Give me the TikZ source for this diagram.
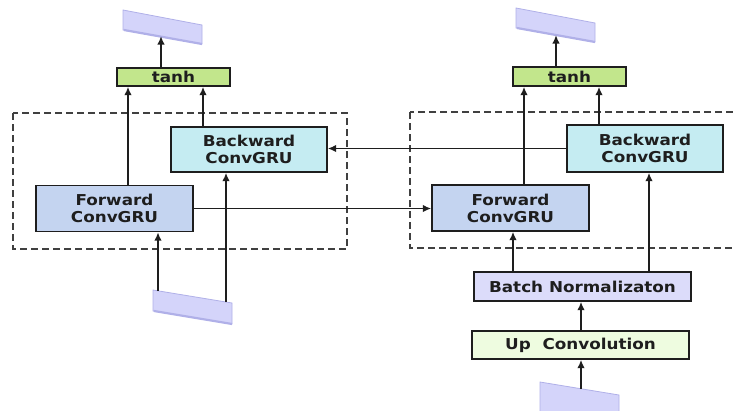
\documentclass[tikz,border=0pt]{standalone}
\usepackage{fontspec}
\setmainfont{DejaVu Sans}
\newfontfamily\boxfont{DejaVu Sans}[FakeStretch=1.12]
\usetikzlibrary{arrows.meta,calc}

\definecolor{tanhfill}{RGB}{194,230,140}
\definecolor{bwdfill}{RGB}{197,236,242}
\definecolor{fwdfill}{RGB}{196,212,240}
\definecolor{bnfill}{RGB}{220,220,250}
\definecolor{upfill}{RGB}{238,252,224}
\definecolor{mapfill}{RGB}{212,212,250}
\definecolor{mapedge}{RGB}{176,176,232}
\definecolor{ink}{RGB}{30,30,30}

\tikzset{
  blk/.style={draw=ink, line width=1.4pt, inner sep=0pt, align=center,
    font=\boxfont\bfseries\fontsize{15}{17}\selectfont, text=ink},
  arr/.style={draw=ink, line width=1.7pt, -{Latex[length=8.5pt,width=7.5pt]}},
  group/.style={draw=ink!85, line width=1.3pt, dash pattern=on 7pt off 4pt},
  featmap/.style={fill=mapfill, draw=mapedge, line width=0.8pt},
  mapbase/.style={draw=mapedge, line width=2.2pt}
}

\begin{document}
\begin{tikzpicture}[x=1pt,y=-1pt]
\useasboundingbox (0,0) rectangle (733,410);
\clip (0,0) rectangle (733,410);

% ---------- left bidirectional cell ----------
\draw[group] (13,113) rectangle (347,249);
\node[blk, fill=tanhfill, minimum width=113pt, minimum height=18pt] (tanhL) at (173.5,77) {tanh};
\node[blk, fill=bwdfill, minimum width=156pt, minimum height=45pt] (bwdL) at (249,149.5) {Backward\\ConvGRU};
\node[blk, fill=fwdfill, minimum width=157pt, minimum height=46pt] (fwdL) at (114.5,208.5) {Forward\\ConvGRU};

% feature maps (output on top, input below), with a darker lower rim
\draw[featmap] (123,10) -- (202,25) -- (202,44) -- (123,30) -- cycle;
\draw[mapbase] (124,30) -- (202,44);
\draw[featmap] (153,290) -- (232,303) -- (232,324) -- (153,311) -- cycle;
\draw[mapbase] (154,311) -- (232,324);
\coordinate (outL) at (161,36);
\coordinate (inLa) at (158,291);
\coordinate (inLb) at (226,302);

% ---------- right bidirectional cell ----------
\draw[group] (410,112) rectangle (760,248);
\node[blk, fill=tanhfill, minimum width=113pt, minimum height=19pt] (tanhR) at (569.5,76.5) {tanh};
\node[blk, fill=bwdfill, minimum width=156pt, minimum height=47pt] (bwdR) at (645,148.5) {Backward\\ConvGRU};
\node[blk, fill=fwdfill, minimum width=157pt, minimum height=46pt] (fwdR) at (510.5,208) {Forward\\ConvGRU};
\node[blk, fill=bnfill, minimum width=217pt, minimum height=29pt] (bn) at (582.5,286.5) {Batch Normalizaton};
\node[blk, fill=upfill, minimum width=217pt, minimum height=28pt] (up) at (580.5,345) {Up\ \ Convolution};

\draw[featmap] (516,8) -- (595,23) -- (595,42) -- (516,28) -- cycle;
\draw[mapbase] (517,28) -- (595,42);
\draw[featmap] (540,382) -- (619,395) -- (619,422) -- (540,422) -- cycle;
\coordinate (outR) at (556,35);
\coordinate (inR) at (581,389);

% ---------- connectors, left ----------
\draw[arr] (tanhL.north -| outL) -- (outL);
\draw[arr] (fwdL.north -| 128,0) -- (tanhL.south -| 128,0);
\draw[arr] (bwdL.north -| 203,0) -- (tanhL.south -| 203,0);
\draw[arr] (inLa) -- (fwdL.south -| inLa);
\draw[arr] (inLb) -- (bwdL.south -| inLb);

% ---------- connectors between cells ----------
\draw[arr] (bwdR.west) -- (bwdR.west -| bwdL.east);
\draw[arr] (fwdL.east) -- (fwdL.east -| fwdR.west);

% ---------- connectors, right ----------
\draw[arr] (tanhR.north -| outR) -- (outR);
\draw[arr] (fwdR.north -| 524,0) -- (tanhR.south -| 524,0);
\draw[arr] (bwdR.north -| 599,0) -- (tanhR.south -| 599,0);
\draw[arr] (bn.north -| 513,0) -- (fwdR.south -| 513,0);
\draw[arr] (bn.north -| 649,0) -- (bwdR.south -| 649,0);
\draw[arr] (up.north -| 581,0) -- (bn.south -| 581,0);
\draw[arr] (inR) -- (up.south -| inR);
\end{tikzpicture}
\end{document}
